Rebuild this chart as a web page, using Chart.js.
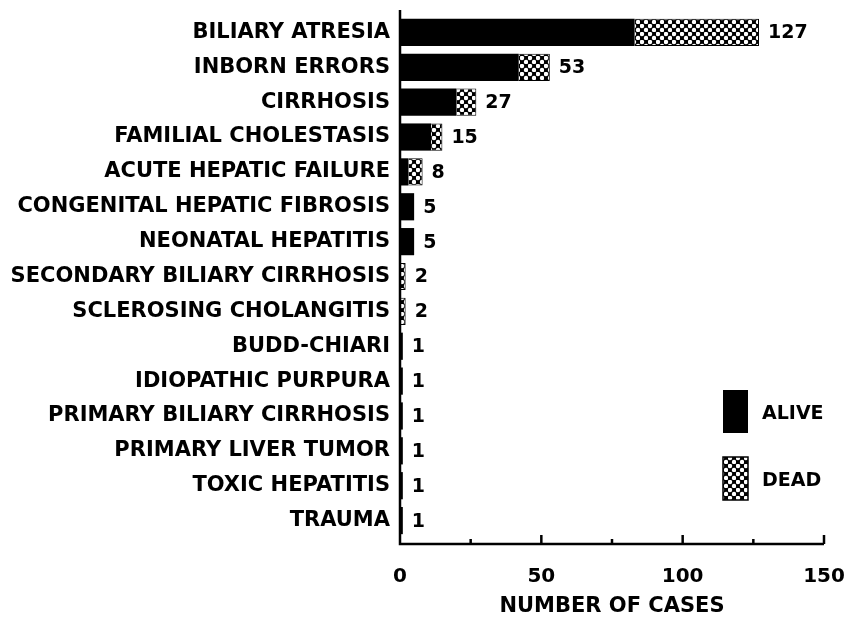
<!DOCTYPE html>
<html lang="en">

<head>
    <meta charset="UTF-8">
    <title>Liver Transplant Diagnoses</title>
    <script src="https://cdn.jsdelivr.net/npm/chart.js"></script>
    <style>
        body {
            margin: 0;
            background: #fff;
        }

        #wrap {
            width: 849px;
            height: 619px;
        }
    </style>
</head>

<body>
    <div id="wrap"><canvas id="casesChart" width="849" height="619"></canvas></div>

    <script>
        // diagnosis categories, top to bottom
        const diagnoses = [
            'BILIARY ATRESIA', 'INBORN ERRORS', 'CIRRHOSIS', 'FAMILIAL CHOLESTASIS',
            'ACUTE HEPATIC FAILURE', 'CONGENITAL HEPATIC FIBROSIS', 'NEONATAL HEPATITIS',
            'SECONDARY BILIARY CIRRHOSIS', 'SCLEROSING CHOLANGITIS', 'BUDD-CHIARI',
            'IDIOPATHIC PURPURA', 'PRIMARY BILIARY CIRRHOSIS', 'PRIMARY LIVER TUMOR',
            'TOXIC HEPATITIS', 'TRAUMA'
        ];
        const alive = [83, 42, 20, 11, 3, 5, 5, 0, 0, 1, 1, 1, 1, 1, 1];
        const dead = [44, 11, 7, 4, 5, 0, 0, 2, 2, 0, 0, 0, 0, 0, 0];
        const totals = [127, 53, 27, 15, 8, 5, 5, 2, 2, 1, 1, 1, 1, 1, 1];
        const xTicks = [0, 50, 100, 150];

        const FONT = 'DejaVu Sans';

        // dotted fill for the "dead" part of each bar
        function makeDotPattern() {
            const tile = document.createElement('canvas');
            tile.width = 8;
            tile.height = 8;
            const t = tile.getContext('2d');
            t.fillStyle = '#000';
            t.fillRect(0, 0, 8, 8);
            t.fillStyle = '#fff';
            [[2, 2], [6, 6]].forEach(([x, y]) => {
                t.beginPath();
                t.arc(x, y, 2.2, 0, Math.PI * 2);
                t.fill();
            });
            return t.createPattern(tile, 'repeat');
        }

        const ctx = document.getElementById('casesChart').getContext('2d');
        const dots = makeDotPattern();

        // axes, tick marks, totals and legend
        const extras = {
            id: 'extras',
            afterDatasetsDraw(chart) {
                const c = chart.ctx;
                const area = chart.chartArea;
                const x = chart.scales.x;
                const y = chart.scales.y;
                const axisY = area.bottom + 6;
                c.save();
                c.strokeStyle = '#000';
                c.lineWidth = 2.5;
                c.beginPath();
                c.moveTo(x.getPixelForValue(0), area.top - 5);
                c.lineTo(x.getPixelForValue(0), axisY);
                c.lineTo(x.getPixelForValue(150), axisY);
                c.stroke();
                for (let v = 25; v <= 150; v += 25) {
                    const px = x.getPixelForValue(v);
                    c.beginPath();
                    c.moveTo(px, axisY);
                    c.lineTo(px, axisY - (v % 50 === 0 ? 9 : 5));
                    c.stroke();
                }

                c.fillStyle = '#000';
                c.font = 'bold 19px "' + FONT + '"';
                c.textBaseline = 'middle';
                c.textAlign = 'left';
                totals.forEach((t, i) => {
                    c.fillText(String(t), x.getPixelForValue(t) + 9, y.getPixelForValue(i) + 1);
                });

                // legend
                c.fillRect(723, 390, 25, 43);
                c.fillStyle = dots;
                c.fillRect(723, 457, 25, 43);
                c.strokeStyle = '#000';
                c.lineWidth = 1.5;
                c.strokeRect(723, 457, 25, 43);
                c.fillStyle = '#000';
                c.font = 'bold 19px "' + FONT + '"';
                c.fillText('ALIVE', 762, 414);
                c.fillText('DEAD', 762, 481);
                c.restore();
            }
        };

        new Chart(ctx, {
            type: 'bar',
            data: {
                labels: diagnoses,
                datasets: [
                    {
                        label: 'ALIVE',
                        data: alive,
                        backgroundColor: '#000',
                        barPercentage: 0.78,
                        categoryPercentage: 1
                    },
                    {
                        label: 'DEAD',
                        data: dead,
                        backgroundColor: dots,
                        borderColor: '#000',
                        borderWidth: 1,
                        barPercentage: 0.78,
                        categoryPercentage: 1
                    }
                ]
            },
            options: {
                indexAxis: 'y',
                responsive: false,
                animation: false,
                layout: { padding: { top: 15, right: 25, left: 0, bottom: 0 } },
                plugins: {
                    legend: { display: false },
                    tooltip: { enabled: false }
                },
                scales: {
                    x: {
                        stacked: true,
                        min: 0,
                        max: 150,
                        border: { display: false },
                        grid: { display: false },
                        afterFit: scale => {
                            scale.height = 81;
                            scale.paddingLeft = 0;
                            scale.paddingRight = 0;
                        },
                        afterBuildTicks: scale => {
                            scale.ticks = xTicks.map(v => ({ value: v }));
                        },
                        ticks: {
                            color: '#000',
                            padding: 19,
                            maxRotation: 0,
                            font: { family: FONT, weight: 'bold', size: 20 }
                        },
                        title: {
                            display: true,
                            text: 'NUMBER OF CASES',
                            color: '#000',
                            padding: { top: 4, bottom: 0 },
                            font: { family: FONT, weight: 'bold', size: 21 }
                        }
                    },
                    y: {
                        stacked: true,
                        border: { display: false },
                        grid: { display: false, drawTicks: false },
                        afterFit: scale => {
                            scale.width = 400;
                            scale.paddingTop = 0;
                            scale.paddingBottom = 0;
                        },
                        ticks: {
                            color: '#000',
                            padding: 10,
                            autoSkip: false,
                            font: { family: FONT, weight: 'bold', size: 21 }
                        }
                    }
                }
            },
            plugins: [extras]
        });
    </script>
</body>

</html>
